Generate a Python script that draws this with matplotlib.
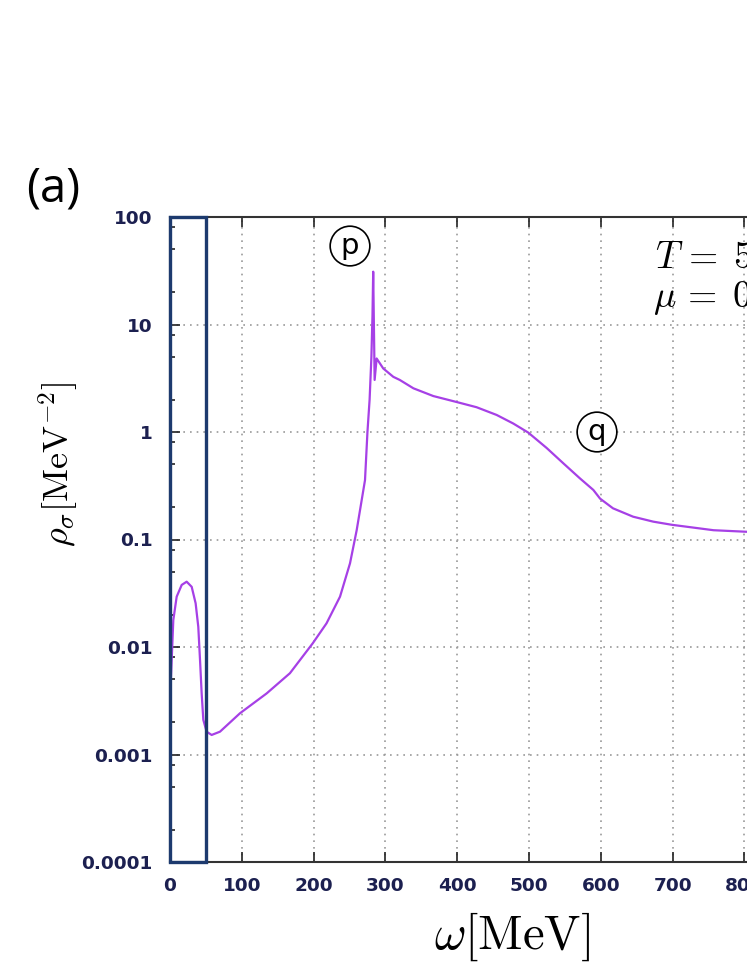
import matplotlib
matplotlib.use("Agg")
import matplotlib.pyplot as plt
from matplotlib.patches import Rectangle
from matplotlib.ticker import LogLocator, NullFormatter

plt.rcParams['mathtext.fontset'] = 'cm'

# ---- data ----
omega = [0.0, 0.3, 1.2, 3.3, 4.6, 9.3, 16.3, 23.2, 30.2, 35.7, 39.4, 41.8, 44.1,
         46.4, 51.0, 58.0, 69.6, 97.5, 134.6, 167.0, 198.7, 218.0, 236.8, 250.7,
         260.0, 267.0, 271.6, 275.0, 278.0, 280.5, 282.0, 283.0, 285.0, 287.8,
         297.0, 311.0, 320.0, 339.0, 366.7, 398.0, 427.0, 455.0, 478.0, 499.0,
         524.6, 548.0, 571.0, 589.6, 599.0, 617.0, 645.0, 673.0, 699.0, 757.0,
         803.0, 830.0]
rho = [1.0e-4, 3.0e-4, 5.0e-3, 0.0108, 0.0178, 0.0294, 0.0378, 0.0405, 0.0363,
       0.0255, 0.0154, 0.0076, 0.0037, 0.0021, 0.00163, 0.00152, 0.00163, 0.00242,
       0.0037, 0.0057, 0.0108, 0.0166, 0.0294, 0.060, 0.122, 0.233, 0.357, 1.0,
       2.0, 5.0, 12.0, 31.0, 3.05, 4.83, 3.9, 3.26, 3.05, 2.55, 2.16, 1.91, 1.70,
       1.44, 1.2, 0.987, 0.71, 0.51, 0.37, 0.289, 0.24, 0.195, 0.163, 0.1466,
       0.137, 0.122, 0.118, 0.117]

x_ticks = [0, 100, 200, 300, 400, 500, 600, 700, 800, 900, 1000]
y_ticks = [1e-4, 1e-3, 1e-2, 1e-1, 1, 10, 100]
y_ticklabels = ['0.0001', '0.001', '0.01', '0.1', '1', '10', '100']
box_range = (0, 50)

fig = plt.figure(figsize=(7.47, 9.67), dpi=100)
ax = fig.add_axes([170/747, 105/967, 718/747, 645/967])

ax.plot(omega, rho, color='#a640e6', lw=1.6, zorder=3)
ax.set_yscale('log')
ax.set_xlim(0, 1000)
ax.set_ylim(1e-4, 100)

ax.set_xticks(x_ticks)
ax.set_yticks(y_ticks)
ax.set_yticklabels(y_ticklabels)
ax.yaxis.set_minor_locator(LogLocator(base=10, subs=[2, 5, 8]))
ax.yaxis.set_minor_formatter(NullFormatter())

lab_color = '#1c2050'
ax.tick_params(axis='both', which='major', direction='in', length=7.5, width=1.2,
               colors='#222222', labelcolor=lab_color, labelsize=13.3)
ax.tick_params(axis='x', which='major', top=True, pad=11)
ax.tick_params(axis='y', which='major', pad=12.5)
ax.tick_params(axis='y', which='minor', direction='in', length=3.8, width=1.2,
               colors='#222222')
for lbl in ax.get_xticklabels() + ax.get_yticklabels():
    lbl.set_fontweight('bold')

for s in ['top', 'bottom', 'left', 'right']:
    ax.spines[s].set_color('#333333')
    ax.spines[s].set_linewidth(1.5)

ax.grid(True, which='major', linestyle=(0, (1, 3)), color='#999999', lw=1.2)

rect = Rectangle((box_range[0], 1e-4), box_range[1] - box_range[0], 100 - 1e-4,
                 fill=False, edgecolor='#1d3a6e', lw=2.4, zorder=4, clip_on=False)
ax.add_patch(rect)

ax.set_xlabel(r'$\omega[\mathrm{MeV}]$', fontsize=35)
ax.xaxis.set_label_coords(0.476, -0.075)
ax.set_ylabel(r'$\rho_{\sigma}[\mathrm{MeV}^{-2}]$', fontsize=26)
ax.yaxis.set_label_coords(-0.124, 0.616)

ax.text(675, 41.6, r'$T\,=\;50\,\mathrm{MeV}$', fontsize=27, va='center', ha='left')
ax.text(673, 17.7, r'$\mu\,=\;0\,\mathrm{MeV}$', fontsize=27, va='center', ha='left')

circ = dict(boxstyle='circle,pad=0.2', fc='white', ec='black', lw=1.2)
ax.text(250.7, 53.7, 'p', fontsize=21, ha='center', va='center', bbox=circ, zorder=5)
ax.text(594.7, 1.0, 'q', fontsize=21, ha='center', va='center', bbox=circ, zorder=5)

fig.text(26/747, 1 - 189/967, '(a)', fontsize=34, ha='left', va='center',
         family='Open Sans')

fig.savefig('out.png', dpi=100)
